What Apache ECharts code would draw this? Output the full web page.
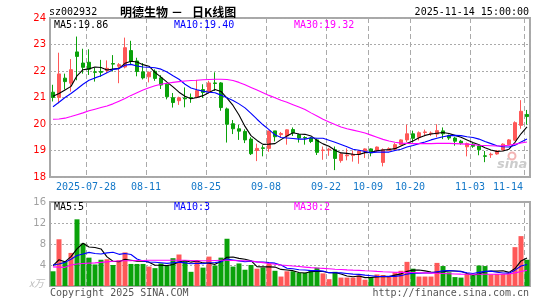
<!DOCTYPE html>
<html>
<head>
<meta charset="utf-8">
<script src="https://cdn.jsdelivr.net/npm/echarts@6/dist/echarts.min.js"></script>
<style>
  html, body { margin: 0; padding: 0; background: #fff; }
  #main { width: 545px; height: 300px; }
</style>
</head>
<body>
<div id="main"></div>
<script>
// 交易日 (2025)
var dates = [
  '07-18','07-21','07-22','07-23','07-24','07-25','07-28','07-29','07-30','07-31',
  '08-01','08-04','08-05','08-06','08-07','08-08','08-11','08-12','08-13','08-14',
  '08-15','08-18','08-19','08-20','08-21','08-22','08-25','08-26','08-27','08-28',
  '08-29','09-01','09-02','09-03','09-04','09-05','09-08','09-09','09-10','09-11',
  '09-12','09-15','09-16','09-17','09-18','09-19','09-22','09-23','09-24','09-25',
  '09-26','09-29','09-30','10-09','10-10','10-13','10-14','10-15','10-16','10-17',
  '10-20','10-21','10-22','10-23','10-24','10-27','10-28','10-29','10-30','10-31',
  '11-03','11-04','11-05','11-06','11-07','11-10','11-11','11-12','11-13','11-14'
];
var tickDates = ['07-28','08-11','08-25','09-08','09-22','10-09','10-20','11-03','11-14'];
var firstTickLabel = '2025-07-28';

var opens = [
  21.2,21.0,21.73,21.54,22.72,22.3,22.33,21.97,21.98,22.02,
  22.28,22.18,22.15,22.77,22.38,21.97,21.78,21.99,21.74,21.5,
  20.99,20.88,20.98,21.0,21.01,21.3,21.22,21.55,21.55,20.57,
  20.01,19.82,19.72,19.43,19.0,19.1,19.08,19.74,19.6,19.55,
  19.79,19.6,19.49,19.47,19.4,19.0,19.02,19.03,18.62,18.8,
  18.81,18.85,18.97,19.06,18.99,18.55,19.0,19.05,19.22,19.4,
  19.63,19.5,19.68,19.63,19.62,19.74,19.56,19.47,19.35,19.14,
  19.24,19.17,18.8,18.84,18.87,19.02,19.22,19.39,19.95,20.36
];
var closes = [
  21.0,21.89,21.6,22.05,22.55,22.14,22.07,21.95,21.95,22.1,
  22.26,22.24,22.88,22.36,21.98,21.74,21.95,21.72,21.47,21.03,
  20.81,20.99,20.95,20.98,21.26,21.19,21.55,21.53,20.62,19.99,
  19.82,19.73,19.4,18.88,19.08,19.08,19.74,19.52,19.64,19.78,
  19.67,19.47,19.47,19.34,18.93,19.02,19.05,18.7,18.87,18.83,
  18.86,18.98,19.06,18.91,19.13,19.03,19.07,19.22,19.4,19.63,
  19.46,19.67,19.7,19.66,19.75,19.63,19.47,19.35,19.28,19.26,
  19.16,19.03,18.78,18.86,18.98,19.24,19.4,20.05,20.48,20.28
];
var lows = [
  20.85,20.78,21.3,21.22,21.65,21.9,21.85,21.6,21.78,21.92,
  21.98,21.54,22.1,22.23,21.8,21.68,21.57,21.63,21.32,20.93,
  20.62,20.72,20.63,20.8,20.97,20.98,21.15,21.25,20.5,19.3,
  19.62,19.4,19.28,18.83,18.6,18.78,18.95,19.34,19.5,19.22,
  19.55,19.3,19.22,19.28,18.83,18.65,18.8,18.26,18.54,18.63,
  18.58,18.5,18.72,18.78,18.95,18.4,18.98,19.0,19.2,19.32,
  19.3,19.38,19.54,19.55,19.5,19.43,19.4,19.18,19.22,18.78,
  19.1,18.82,18.56,18.72,18.84,19.0,19.2,19.36,19.82,19.98
];
var highs = [
  21.48,22.69,21.9,22.45,23.3,22.84,22.82,22.13,22.42,22.4,
  22.6,22.3,23.26,23.14,22.5,22.3,21.98,22.06,21.84,21.55,
  21.17,21.03,21.38,21.15,21.67,21.5,21.63,21.95,21.58,20.62,
  20.15,19.97,19.8,19.5,19.26,19.2,19.74,19.74,19.7,19.8,
  19.87,19.63,19.54,19.51,19.45,19.15,19.1,19.15,18.93,19.08,
  19.0,19.02,19.08,19.08,19.15,19.08,19.12,19.28,19.42,19.98,
  19.75,19.72,19.79,19.72,19.99,19.87,19.6,19.52,19.4,19.3,
  19.28,19.2,18.98,18.92,19.02,19.27,19.43,20.1,20.9,20.53
];

var ma5 = [
  21.05,21.15,21.28,21.42,21.82,22.05,22.08,22.15,22.13,22.04,
  22.07,22.10,22.29,22.37,22.34,22.24,22.18,21.95,21.77,21.58,
  21.40,21.20,21.05,20.95,21.00,21.07,21.19,21.30,21.23,20.98,
  20.70,20.34,19.91,19.56,19.38,19.23,19.24,19.26,19.41,19.55,
  19.67,19.62,19.61,19.55,19.38,19.25,19.16,19.01,18.91,18.89,
  18.86,18.85,18.92,18.93,18.99,19.02,19.04,19.07,19.17,19.27,
  19.36,19.48,19.57,19.62,19.65,19.68,19.64,19.57,19.50,19.40,
  19.30,19.22,19.10,19.02,18.96,18.98,19.05,19.31,19.63,19.89
];
var ma10 = [
  20.65,20.82,21.0,21.15,21.32,21.5,21.65,21.74,21.82,21.93,
  22.06,22.09,22.22,22.25,22.19,22.15,22.14,22.12,22.07,21.96,
  21.82,21.69,21.50,21.36,21.29,21.24,21.20,21.18,21.09,20.99,
  20.89,20.76,20.61,20.40,20.18,19.97,19.79,19.59,19.49,19.47,
  19.45,19.43,19.43,19.48,19.46,19.46,19.39,19.31,19.23,19.14,
  19.05,19.01,18.96,18.92,18.94,18.94,18.94,19.00,19.05,19.13,
  19.19,19.26,19.32,19.40,19.46,19.52,19.56,19.57,19.56,19.52,
  19.49,19.43,19.34,19.26,19.18,19.14,19.13,19.20,19.32,19.43
];
var ma30 = [
  20.18,20.19,20.22,20.28,20.35,20.42,20.5,20.56,20.62,20.68,
  20.76,20.86,20.96,21.08,21.18,21.28,21.37,21.44,21.5,21.54,
  21.57,21.6,21.62,21.64,21.65,21.67,21.68,21.69,21.69,21.68,
  21.64,21.57,21.48,21.38,21.28,21.18,21.08,20.99,20.9,20.82,
  20.73,20.64,20.55,20.42,20.3,20.18,20.08,19.98,19.89,19.82,
  19.77,19.72,19.66,19.58,19.5,19.42,19.36,19.31,19.28,19.27,
  19.26,19.26,19.26,19.26,19.27,19.27,19.27,19.26,19.25,19.24,
  19.22,19.2,19.19,19.18,19.17,19.18,19.2,19.24,19.28,19.32
];

// 成交量 (万手)
var vols = [
  2.8,8.9,4.7,6.3,12.7,8.1,5.4,4.1,5.0,5.1,
  4.0,4.9,6.4,4.2,4.2,4.2,3.7,3.4,4.3,3.8,
  5.3,6.0,4.9,2.7,4.9,3.5,5.6,3.9,5.4,9.0,
  3.7,4.3,3.1,4.0,3.3,3.5,4.3,2.9,1.8,2.8,
  2.8,2.5,2.5,2.9,3.5,2.4,1.3,2.7,1.6,1.6,
  1.6,2.0,1.2,1.7,2.2,2.1,1.75,2.6,2.9,4.6,
  3.3,1.8,1.8,1.8,4.4,3.8,2.6,1.7,1.6,2.3,
  2.0,3.9,3.8,2.2,2.3,2.3,2.4,7.4,9.5,5.0
];
var vma5 = [
  3.9,5.0,4.6,5.6,7.08,8.14,7.44,7.32,7.06,5.54,
  4.72,4.62,5.08,4.92,4.74,4.78,4.54,3.94,3.96,3.88,
  4.10,4.56,4.86,4.54,4.76,4.40,4.32,4.12,4.66,5.48,
  5.52,5.26,5.10,4.82,3.68,3.64,3.64,3.60,3.16,3.06,
  2.92,2.56,2.48,2.70,2.84,2.76,2.52,2.56,2.30,1.92,
  1.76,1.90,1.60,1.62,1.74,1.84,1.79,2.07,2.31,2.79,
  3.03,3.04,2.88,2.66,2.62,2.72,2.88,2.86,2.82,2.40,
  2.04,2.30,2.72,2.84,2.84,2.90,2.60,3.32,4.78,5.32
];
var vma10 = [
  4.0,4.2,4.5,5.1,5.8,6.1,6.4,6.2,6.1,6.31,
  6.43,6.03,6.20,5.99,5.14,4.75,4.58,4.51,4.44,4.31,
  4.44,4.55,4.40,4.25,4.32,4.25,4.44,4.49,4.60,5.12,
  4.96,4.79,4.61,4.74,4.58,4.58,4.45,4.35,3.99,3.37,
  3.28,3.10,3.04,2.93,2.95,2.84,2.54,2.52,2.50,2.38,
  2.26,2.21,2.08,1.96,1.83,1.80,1.85,1.84,1.97,2.27,
  2.44,2.42,2.48,2.49,2.71,2.88,2.96,2.87,2.74,2.51,
  2.38,2.59,2.79,2.83,2.62,2.47,2.45,3.02,3.81,4.08
];
var vma30 = [
  3.65,3.6,3.55,4.0,4.2,4.3,4.35,4.4,4.5,4.6,
  4.7,4.75,4.8,4.8,4.85,4.85,4.9,4.9,4.9,4.9,
  4.9,4.9,4.9,4.85,4.8,4.8,4.8,4.85,4.9,4.9,
  4.85,4.8,4.8,4.75,4.6,4.45,4.3,4.15,4.0,3.9,
  3.8,3.7,3.6,3.5,3.42,3.35,3.28,3.2,3.15,3.08,
  3.02,2.97,2.9,2.85,2.78,2.72,2.67,2.62,2.6,2.58,
  2.56,2.53,2.5,2.46,2.42,2.38,2.33,2.28,2.26,2.25,
  2.25,2.25,2.25,2.24,2.24,2.25,2.3,2.5,2.75,2.97
];

var RED = '#ff5858';
var GREEN = '#0aa20a';
var MONO = 'DejaVu Sans Mono';
var LABEL_BLUE = '#1478c8';

var kData = opens.map(function (o, i) {
  return [o, closes[i], lows[i], highs[i]];
});
var volData = vols.map(function (v, i) {
  return { value: v, itemStyle: { color: closes[i] >= opens[i] ? RED : GREEN } };
});
var lineIdx = [];
dates.forEach(function (d, i) {
  if (tickDates.indexOf(d) >= 0) lineIdx.push(i);
});
function isMarked(i) { return lineIdx.indexOf(i) >= 0; }

function maLine(name, data, color, xi) {
  return {
    name: name, type: 'line', data: data,
    xAxisIndex: xi, yAxisIndex: xi,
    symbol: 'none', silent: true, z: 3,
    color: color,
    lineStyle: { width: 1.1, color: color }
  };
}
function txt(x, y, s, color, font, align) {
  return {
    type: 'text', x: x, y: y, z: 10,
    style: { text: s, fill: color, font: font, textAlign: align || 'left', textVerticalAlign: 'middle' }
  };
}

var chart = echarts.init(document.getElementById('main'), null, { renderer: 'canvas' });

var option = {
  animation: false,
  backgroundColor: '#fff',
  grid: [
    { left: 50, top: 18, width: 480, height: 159, show: true, borderColor: '#a8a8a8', borderWidth: 2 },
    { left: 50, top: 202, width: 480, height: 84, show: true, borderColor: '#a8a8a8', borderWidth: 2 }
  ],
  xAxis: [
    {
      type: 'category', gridIndex: 0, data: dates, boundaryGap: true,
      axisLine: { show: false }, axisTick: { show: false },
      axisLabel: {
        interval: function (i) { return isMarked(i); },
        margin: 5,
        formatter: function (v, i) {
          if (i === 6) return '{a|' + firstTickLabel + '}';
          if (i === dates.length - 1) return '{b|' + v + '}';
          return '{a|' + v + '}';
        },
        rich: {
          a: { color: LABEL_BLUE, fontFamily: MONO, fontSize: 10, padding: [0, 6, 0, 0] },
          b: { color: LABEL_BLUE, fontFamily: MONO, fontSize: 10, padding: [0, 38, 0, 0] }
        }
      },
      splitLine: {
        show: true,
        interval: function (i) { return isMarked(i); },
        lineStyle: { color: '#aaa', width: 1, type: [5, 3] }
      }
    },
    {
      type: 'category', gridIndex: 1, data: dates, boundaryGap: true,
      axisLine: { show: false }, axisTick: { show: false }, axisLabel: { show: false },
      splitLine: {
        show: true,
        interval: function (i) { return isMarked(i); },
        lineStyle: { color: '#aaa', width: 1, type: [5, 3] }
      }
    }
  ],
  yAxis: [
    {
      type: 'value', gridIndex: 0, min: 18, max: 24, interval: 1,
      axisLine: { show: false }, axisTick: { show: false },
      axisLabel: { color: '#ff0000', fontFamily: 'DejaVu Sans', fontSize: 10, margin: 4 },
      splitLine: { lineStyle: { color: '#aaa', width: 1, type: [2, 2] } }
    },
    {
      type: 'value', gridIndex: 1, min: 0, max: 16, interval: 4,
      axisLine: { show: false }, axisTick: { show: false },
      axisLabel: {
        color: '#a0a0a0', fontFamily: 'DejaVu Sans', fontSize: 10, margin: 4,
        formatter: function (v) { return v === 0 ? '' : v; }
      },
      splitLine: { lineStyle: { color: '#aaa', width: 1, type: [2, 2] } }
    }
  ],
  series: [
    {
      name: 'K', type: 'candlestick', data: kData,
      xAxisIndex: 0, yAxisIndex: 0, barWidth: 4, z: 2,
      itemStyle: { color: RED, color0: GREEN, borderColor: RED, borderColor0: GREEN, borderWidth: 1 }
    },
    maLine('MA5', ma5, '#000000', 0),
    maLine('MA10', ma10, '#0000ff', 0),
    maLine('MA30', ma30, '#ff00ff', 0),
    {
      name: 'VOL', type: 'bar', data: volData,
      xAxisIndex: 1, yAxisIndex: 1, barWidth: 5, z: 2
    },
    maLine('VMA5', vma5, '#000000', 1),
    maLine('VMA10', vma10, '#0000ff', 1),
    maLine('VMA30', vma30, '#ff00ff', 1)
  ],
  graphic: [
    txt(49, 12, 'sz002932', '#000', '10px "DejaVu Sans Mono"'),
    txt(120, 12, '明德生物', '#000', 'bold 12px "Noto Sans CJK SC"'),
    txt(171, 12, '－', '#000', 'bold 12px "Noto Sans CJK SC"'),
    txt(192, 12, '日K线图', '#000', 'bold 12px "Noto Sans CJK SC"'),
    txt(529, 12, '2025-11-14 15:00:00', '#000', '10px "DejaVu Sans Mono"', 'right'),
    txt(54, 25, 'MA5:19.86', '#000', '10px "DejaVu Sans Mono"'),
    txt(174, 25, 'MA10:19.40', '#0000ff', '10px "DejaVu Sans Mono"'),
    txt(294, 25, 'MA30:19.32', '#ff00ff', '10px "DejaVu Sans Mono"'),
    txt(54, 207, 'MA5:5', '#000', '10px "DejaVu Sans Mono"'),
    txt(174, 207, 'MA10:3', '#0000ff', '10px "DejaVu Sans Mono"'),
    txt(294, 207, 'MA30:2', '#ff00ff', '10px "DejaVu Sans Mono"'),
    txt(29, 283, 'x万', '#bbb', 'italic 10px "Noto Sans CJK SC"'),
    txt(50, 293, 'Copyright 2025 SINA.COM', '#555', '10px "DejaVu Sans Mono"'),
    txt(529, 293, 'http://finance.sina.com.cn', '#555', '10px "DejaVu Sans Mono"', 'right'),
    {
      type: 'circle', z: 1, shape: { cx: 512, cy: 156, r: 3.5 },
      style: { fill: 'none', stroke: '#f3b4b4', lineWidth: 2 }
    },
    txt(497, 165, 'sina', '#cccccc', 'italic bold 13px "DejaVu Sans"')
  ]
};

chart.setOption(option);
</script>
</body>
</html>
